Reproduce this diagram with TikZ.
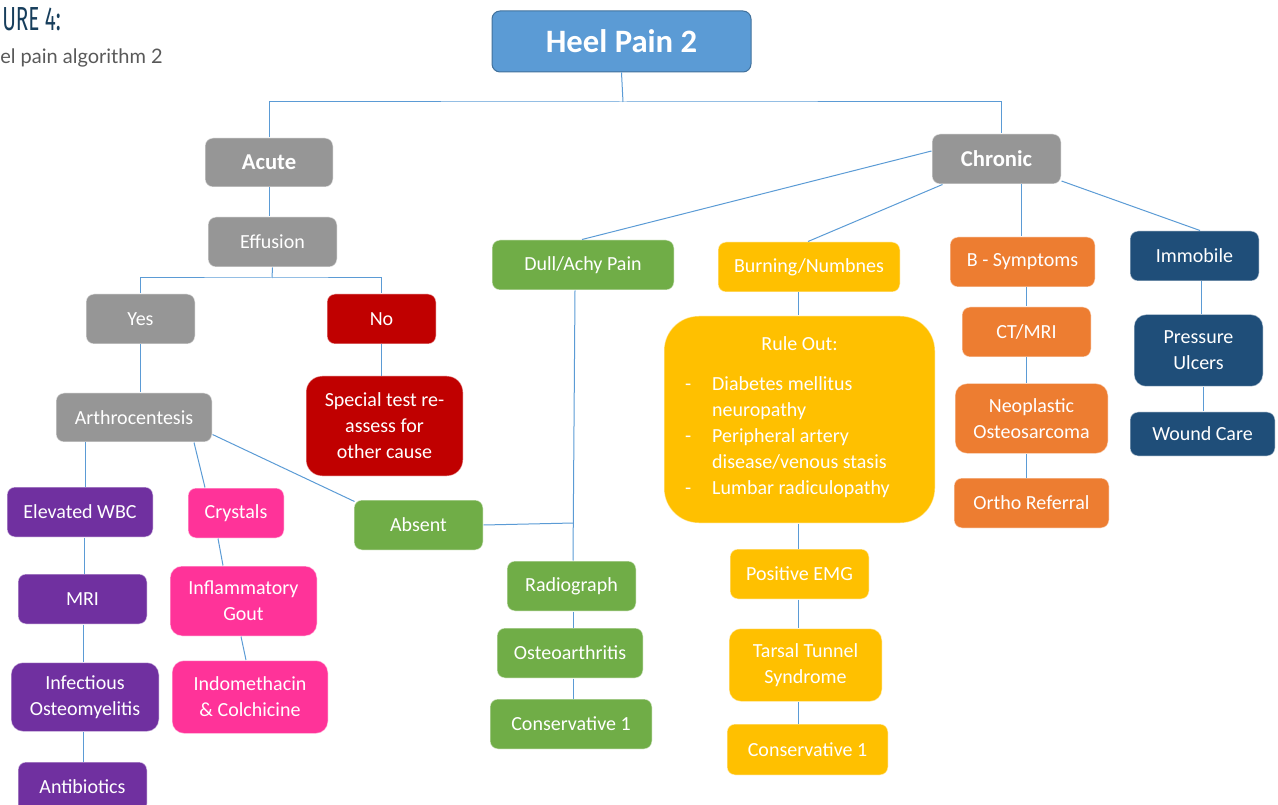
\documentclass[tikz,border=0pt]{standalone}
\usepackage{fontspec}
\setmainfont{Carlito}
\newfontfamily\figfont[FakeStretch=0.62]{Fira Sans}
\newfontfamily\capfont{Lato}
\usetikzlibrary{calc}
\definecolor{linkblue}{RGB}{91,155,213}
\definecolor{heelblue}{RGB}{91,155,213}
\definecolor{heelborder}{RGB}{65,113,156}
\definecolor{greybox}{RGB}{150,150,150}
\definecolor{redbox}{RGB}{192,0,0}
\definecolor{purplebox}{RGB}{112,48,160}
\definecolor{pinkbox}{RGB}{255,51,153}
\definecolor{greenbox}{RGB}{112,173,71}
\definecolor{yellowbox}{RGB}{255,192,0}
\definecolor{orangebox}{RGB}{237,125,49}
\definecolor{navybox}{RGB}{31,78,121}
\definecolor{titleblue}{RGB}{23,62,92}
\definecolor{capgrey}{RGB}{89,89,89}
\begin{document}
\begin{tikzpicture}[x=0.75pt,y=0.75pt,yscale=-1,xscale=1,
  box/.style={rounded corners=6pt, draw=white, draw opacity=0.5, line width=0.75pt, text=white, align=center, inner sep=0pt, font=\fontsize{15}{19.5}\selectfont},
  head/.style={box, font=\fontsize{17}{20}\selectfont\bfseries},
  boxsize/.style 2 args={minimum width=#1*0.75pt, minimum height=#2*0.75pt},
  link/.style={draw=linkblue, line width=0.75pt}]
\useasboundingbox (0,0) rectangle (1278,805);

%Caption
\node [anchor=west, inner sep=0pt, text=titleblue, font=\figfont\fontsize{25}{26}\selectfont] (figlabel) at (2,19) {URE 4:};
\node [anchor=west, inner sep=0pt, text=capgrey, font=\capfont\fontsize{15}{18}\selectfont] (figcaption) at (0,57.5) {el pain algorithm 2};

%Top
\node [box, boxsize={259}{61}, fill=heelblue, draw=heelborder, draw opacity=1, font=\fontsize{24.5}{28}\selectfont\bfseries] (heel) at (621.5,41.5) {Heel Pain 2};
\node [head, boxsize={128}{49}, fill=greybox] (acute) at (269,162.5) {Acute};
\node [head, boxsize={129}{50}, fill=greybox] (chronic) at (996.5,159) {Chronic};

%Acute branch
\node [box, boxsize={129}{50}, fill=greybox] (effusion) at (272.5,242) {Effusion};
\node [box, boxsize={109}{50}, fill=greybox] (yes) at (140.5,319) {Yes};
\node [box, boxsize={109}{50}, fill=redbox] (no) at (381.5,319) {No};
\node [box, boxsize={157}{100}, fill=redbox, rounded corners=12pt] (special) at (384.5,426) {Special test re-\\assess for\\other cause};
\node [box, boxsize={156}{49}, fill=greybox] (arthro) at (134,417.5) {Arthrocentesis};
\node [box, boxsize={146}{50}, fill=purplebox] (wbc) at (80,512) {Elevated WBC};
\node [box, boxsize={96}{50}, fill=pinkbox] (crystals) at (236,513) {Crystals};
\node [box, boxsize={129}{50}, fill=greenbox] (absent) at (418.5,525) {Absent};
\node [box, boxsize={129}{50}, fill=purplebox] (mri) at (82.5,599) {MRI};
\node [box, boxsize={147}{70}, fill=pinkbox, rounded corners=9pt] (gout) at (243.5,601) {Inflammatory\\Gout};
\node [box, boxsize={148}{69}, fill=purplebox, rounded corners=9pt] (osteomyel) at (85,697) {Infectious\\Osteomyelitis};
\node [box, boxsize={156}{73}, fill=pinkbox, rounded corners=9pt] (indo) at (250,697) {Indomethacin\\\& Colchicine};
\node [box, boxsize={129}{50}, fill=purplebox] (antib) at (82.5,787) {Antibiotics};

%Chronic branch
\node [box, boxsize={182}{50}, fill=greenbox] (dull) at (583,265) {Dull/Achy Pain};
\node [box, boxsize={129}{50}, fill=greenbox] (radio) at (571.5,586) {Radiograph};
\node [box, boxsize={146}{50}, fill=greenbox] (osteoarth) at (570,653) {Osteoarthritis};
\node [box, boxsize={162}{50}, fill=greenbox] (consgreen) at (571,724) {Conservative 1};
\node [box, boxsize={182}{50}, fill=yellowbox] (burning) at (809,267) {Burning/Numbnes};
\node [box, boxsize={271}{207}, fill=yellowbox, rounded corners=26pt] (ruleout) at (799.5,419.5) {Rule Out:\\[10.5pt]
  \begin{tabular}[t]{@{}p{20.25pt}@{}l@{\hspace{18pt}}}
  -&Diabetes mellitus\\
   &neuropathy\\
  -&Peripheral artery\\
   &disease/venous stasis\\
  -&Lumbar radiculopathy
  \end{tabular}};
\node [box, boxsize={139}{50}, fill=yellowbox] (emg) at (799.5,574) {Positive EMG};
\node [box, boxsize={153}{73}, fill=yellowbox, rounded corners=9pt] (tarsal) at (805.5,665) {Tarsal Tunnel\\Syndrome};
\node [box, boxsize={161}{51}, fill=yellowbox] (consyellow) at (807.5,749.5) {Conservative 1};
\node [box, boxsize={145}{50}, fill=orangebox] (bsym) at (1022.5,262) {B - Symptoms};
\node [box, boxsize={129}{50}, fill=orangebox] (ctmri) at (1026.5,332) {CT/MRI};
\node [box, boxsize={153}{70}, fill=orangebox, rounded corners=9pt] (neo) at (1031.5,418.5) {Neoplastic\\Osteosarcoma};
\node [box, boxsize={155}{50}, fill=orangebox] (ortho) at (1031.5,503) {Ortho Referral};
\node [box, boxsize={129}{50}, fill=navybox] (immobile) at (1194.5,256) {Immobile};
\node [box, boxsize={129}{72}, fill=navybox, rounded corners=9pt] (pressure) at (1198.5,350.5) {Pressure\\Ulcers};
\node [box, boxsize={145}{44}, fill=navybox] (wound) at (1202.5,434) {Wound Care};

%Connectors
\coordinate (topbar) at (623,102);
\coordinate (effbar) at (272,278);
\draw [link] (heel.south) -- (topbar);
\draw [link] (acute.north) |- (topbar) -| ([xshift=3.4pt]chronic.north);
\draw [link] (acute.south) -- (effusion.north -| acute.south);
\draw [link] (effusion.south) -- (effbar);
\draw [link] (yes.north) |- (effbar) -| (no.north);
\draw [link] (yes.south) -- (arthro.north -| yes.south);
\draw [link] (no.south) -- (no.south |- 0,376);
\draw [link] ($(arthro.south)+(-49,0)$) -- ($(wbc.north)+(5,0)$);
\draw [link] ($(arthro.south)+(60,0)$) -- ($(crystals.north)+(-31,0)$);
\draw [link] ($(arthro.east)+(0,17)$) -- ($(absent.north west)+(1,2)$);
\draw [link] ($(wbc.south)+(4,0)$) -- ($(mri.north)+(1.5,0)$);
\draw [link] ($(mri.south)+(0.5,0)$) -- ($(osteomyel.north)+(-2,0)$);
\draw [link] ($(osteomyel.south)+(-2,0)$) -- ($(antib.north)+(0.5,0)$);
\draw [link] ($(crystals.south)+(-18,0)$) -- ($(gout.north)+(-20.5,0)$);
\draw [link] ($(gout.south)+(-2.5,0)$) -- ($(indo.north)+(-4,0)$);
\draw [link] ($(chronic.west)+(0,-8)$) -- ($(dull.north)+(-1,0)$);
\draw [link] ($(chronic.south west)+(11,0)$) -- ($(burning.north)+(-1,0)$);
\draw [link] ($(chronic.south)+(24.5,0)$) -- ($(bsym.north)+(-1.5,0)$);
\draw [link] ($(chronic.east)+(0,22)$) -- ($(immobile.north)+(5.5,0)$);
\draw [link] ($(dull.south)+(-8,0)$) -- ($(radio.north)+(1.5,0)$);
\draw [link] (absent.east) -- ($(absent.east)+(90,-2)$);
\draw [link] ($(radio.south)+(1.5,0)$) -- ($(osteoarth.north)+(3,0)$);
\draw [link] ($(osteoarth.south)+(3,0)$) -- ($(consgreen.north)+(2,0)$);
\draw [link] ($(burning.south)+(-11,0)$) -- ($(ruleout.north)+(-1.5,0)$);
\draw [link] ($(ruleout.south)+(-1.5,0)$) -- ($(emg.north)+(-1.5,0)$);
\draw [link] ($(emg.south)+(-1.5,0)$) -- ($(tarsal.north)+(-7.5,0)$);
\draw [link] ($(tarsal.south)+(-7.5,0)$) -- ($(consyellow.north)+(-9.5,0)$);
\draw [link] ($(bsym.south)+(3.5,0)$) -- ($(ctmri.north)+(-0.5,0)$);
\draw [link] ($(ctmri.south)+(-0.5,0)$) -- ($(neo.north)+(-5.5,0)$);
\draw [link] ($(neo.south)+(-5.5,0)$) -- ($(ortho.north)+(-5.5,0)$);
\draw [link] ($(immobile.south)+(6.5,0)$) -- ($(pressure.north)+(2.5,0)$);
\draw [link] ($(pressure.south)+(4.5,0)$) -- ($(wound.north)+(0.5,0)$);

\end{tikzpicture}
\end{document}
